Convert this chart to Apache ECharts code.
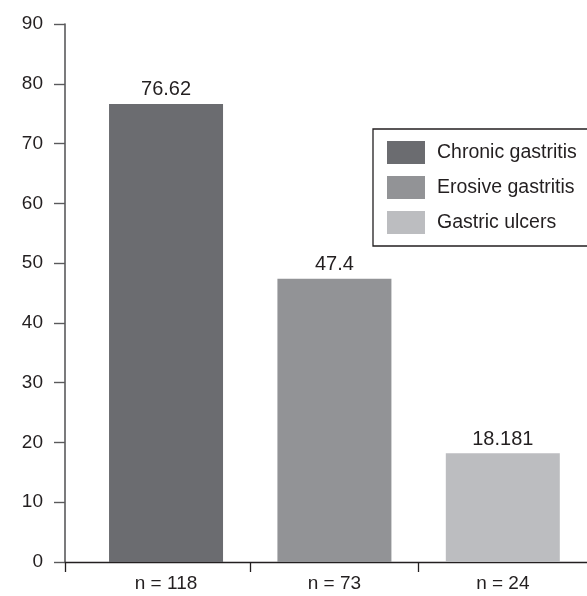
<!DOCTYPE html>
<html>
<head>
<meta charset="utf-8">
<script src="https://cdn.jsdelivr.net/npm/echarts@6/dist/echarts.min.js"></script>
<style>
html,body{margin:0;padding:0;background:#fff;}
#chart{width:587px;height:596px;}
</style>
</head>
<body>
<div id="chart"></div>
<script>
var categories = ['n = 118', 'n = 73', 'n = 24'];
var seriesNames = ['Chronic gastritis', 'Erosive gastritis', 'Gastric ulcers'];
var values = [76.62, 47.4, 18.181];
var colors = ['#6b6c70', '#929396', '#bcbdc0'];
var yTicks = [0, 10, 20, 30, 40, 50, 60, 70, 80, 90];

var FONT = '"Liberation Sans", Arial, sans-serif';
var TXT = '#231f20';

var chart = echarts.init(document.getElementById('chart'));

var series = seriesNames.map(function (name, i) {
  return {
    name: name,
    type: 'bar',
    data: [[i, values[i]]],
    barWidth: 114,
    barGap: '-100%',
    itemStyle: { color: colors[i] },
    label: {
      show: true,
      position: 'top',
      distance: 4,
      color: TXT,
      fontFamily: FONT,
      fontSize: 20,
      formatter: function (p) { return String(p.value[1]); }
    },
    emphasis: { disabled: true }
  };
});

chart.setOption({
  animation: false,
  backgroundColor: '#fff',
  grid: { left: 65, right: 0, top: 24, bottom: 34, containLabel: false },
  legend: {
    orient: 'vertical',
    left: 373,
    top: 129,
    padding: [12, 24, 12, 14],
    itemWidth: 38,
    itemHeight: 23,
    itemGap: 12,
    borderColor: TXT,
    borderWidth: 1.3,
    borderRadius: 0,
    icon: 'rect',
    selectedMode: false,
    textStyle: { color: TXT, fontFamily: FONT, fontSize: 19.5, padding: [0, 0, 0, 7] },
    data: seriesNames
  },
  xAxis: {
    type: 'value',
    min: -0.6,
    max: 2.5,
    splitLine: { show: false },
    axisLine: { show: true, onZero: false, lineStyle: { color: TXT, width: 1.3 } },
    axisTick: {
      show: true,
      length: 10,
      customValues: [-0.6, 0.5, 1.5],
      lineStyle: { color: TXT, width: 1.3 }
    },
    axisLabel: {
      show: true,
      margin: 12,
      customValues: [0, 1, 2],
      color: TXT,
      fontFamily: FONT,
      fontSize: 19,
      formatter: function (v) { return categories[Math.round(v)]; }
    }
  },
  yAxis: {
    type: 'value',
    min: 0,
    max: 90,
    interval: 10,
    splitLine: { show: false },
    axisLine: { show: true, onZero: false, lineStyle: { color: '#5a5a5c', width: 1.6 } },
    axisTick: { show: true, length: 11, lineStyle: { color: '#5a5a5c', width: 1.4 } },
    axisLabel: {
      margin: 22,
      color: TXT,
      fontFamily: FONT,
      fontSize: 19,
      customValues: yTicks,
      formatter: function (v) { return String(v); }
    }
  },
  series: series
});
</script>
</body>
</html>
